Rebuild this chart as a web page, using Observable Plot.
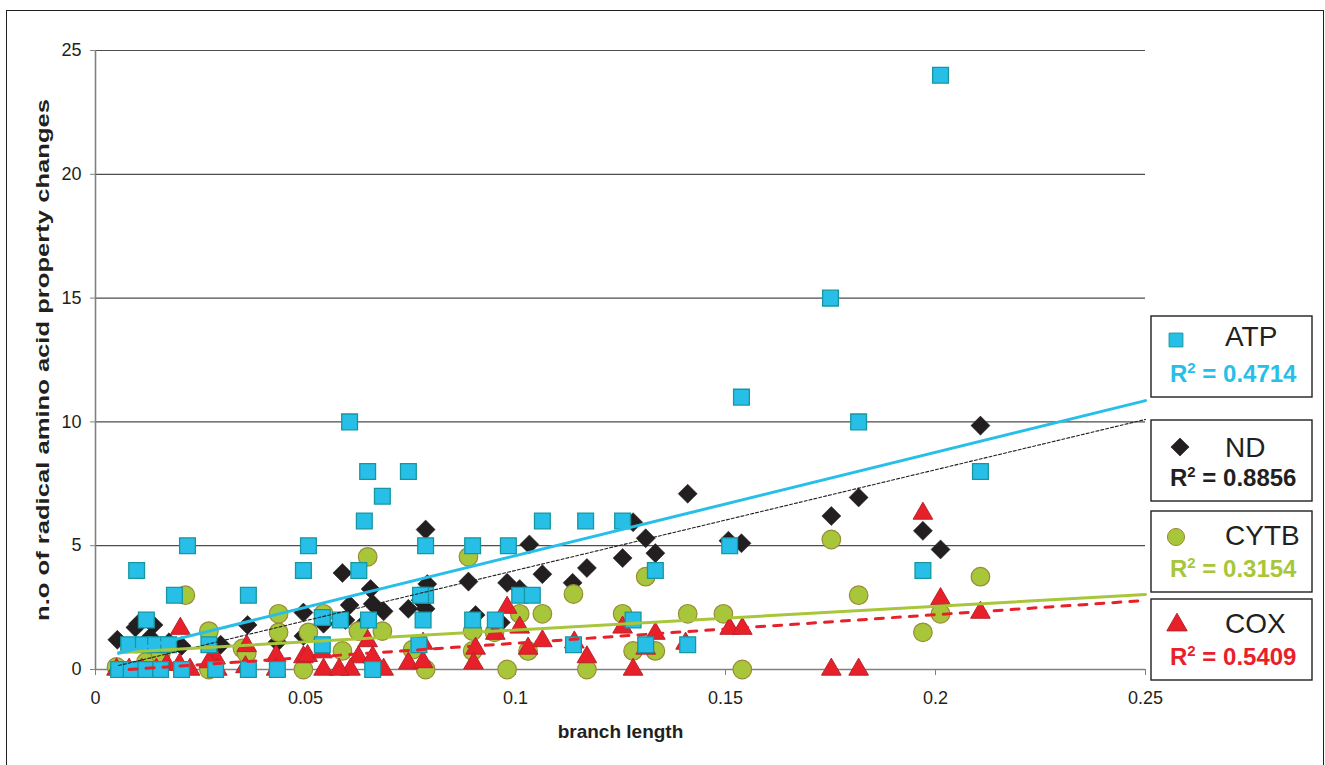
<!DOCTYPE html>
<html><head><meta charset="utf-8">
<script src="https://cdn.jsdelivr.net/npm/d3@7"></script>
<script src="https://cdn.jsdelivr.net/npm/@observablehq/plot@0.6"></script>
<style>
html,body{margin:0;padding:0;background:#fff;}
#wrap{position:relative;width:1325px;height:765px;overflow:hidden;font-family:"Liberation Sans",Arial,sans-serif;}
#frame{position:absolute;left:6px;top:10px;width:1318px;height:800px;border:1.5px solid #231f20;box-sizing:border-box;}
#chart{position:absolute;left:0;top:0;}
#legend{position:absolute;left:0;top:0;}
</style></head><body>
<div id="wrap"><div id="frame"></div><div id="chart"></div><svg id="legend" width="1325" height="765"></svg></div>
<script>
// ---- data (branch length, n.o of radical changes) ----
const atp = [[0.2012,24],[0.175,15],[0.1538,11],[0.1817,10],[0.0605,10],[0.2107,8],[0.0648,8],[0.0745,8],[0.0683,7],[0.0640,6],[0.1064,6],[0.1167,6],[0.1255,6],[0.0219,5],[0.0507,5],[0.0786,5],[0.0898,5],[0.0983,5],[0.151,5],[0.197,4],[0.0098,4],[0.0495,4],[0.0627,4],[0.1333,4],[0.0188,3],[0.0364,3],[0.0786,3],[0.0774,3],[0.101,3],[0.104,3],[0.0121,2],[0.0583,2],[0.054,2.1],[0.065,2],[0.078,2],[0.0898,2],[0.0952,2],[0.128,2],[0.0079,1],[0.0114,1],[0.0143,1],[0.0174,1],[0.027,1],[0.054,1],[0.077,1],[0.1138,1],[0.131,1],[0.141,1],[0.0055,0],[0.0085,0],[0.012,0],[0.0155,0],[0.0205,0],[0.0286,0],[0.0364,0],[0.0433,0],[0.066,0]];
const nd = [[0.2107,9.85],[0.141,7.1],[0.1817,6.95],[0.1752,6.2],[0.197,5.6],[0.2012,4.85],[0.1538,5.1],[0.1507,5.2],[0.128,5.95],[0.131,5.3],[0.1255,4.5],[0.1333,4.7],[0.117,4.1],[0.1064,3.85],[0.1136,3.5],[0.1033,5.05],[0.0786,5.65],[0.0588,3.9],[0.0655,3.25],[0.079,3.45],[0.0888,3.55],[0.098,3.5],[0.101,3.25],[0.0774,2.8],[0.0605,2.6],[0.066,2.65],[0.0686,2.35],[0.0745,2.45],[0.0786,2.45],[0.0905,2.2],[0.0965,1.9],[0.063,1.7],[0.0595,2.0],[0.0543,1.85],[0.0495,2.3],[0.0362,1.8],[0.0433,1.1],[0.0495,1.35],[0.0286,0.9],[0.0298,1.0],[0.0052,1.2],[0.0095,1.7],[0.0138,1.8],[0.0102,1.85],[0.013,1.3],[0.0175,1.1],[0.0205,0.95]];
const cytb = [[0.0214,3],[0.027,1.55],[0.0436,2.25],[0.0436,1.5],[0.0507,1.5],[0.0543,2.25],[0.035,0.85],[0.036,0.65],[0.0495,0],[0.0626,1.55],[0.0683,1.55],[0.0588,0.75],[0.0755,0.8],[0.0786,0],[0.0898,1.55],[0.0898,0.75],[0.0648,4.55],[0.0888,4.55],[0.1138,3.05],[0.101,2.25],[0.1064,2.25],[0.095,1.5],[0.103,0.75],[0.098,0],[0.117,0],[0.131,3.75],[0.1255,2.25],[0.141,2.25],[0.1495,2.25],[0.128,0.75],[0.1333,0.75],[0.154,0],[0.1752,5.25],[0.1817,3.0],[0.2107,3.75],[0.2012,2.25],[0.197,1.5],[0.005,0.1],[0.012,0.3],[0.0155,0.6],[0.027,0]];
const cox = [[0.197,6.3],[0.2012,2.85],[0.2107,2.3],[0.1817,0],[0.1752,0],[0.151,1.65],[0.154,1.65],[0.128,0],[0.1255,1.7],[0.1333,1.45],[0.131,0.85],[0.1405,1.05],[0.098,2.5],[0.101,1.7],[0.0952,1.45],[0.1064,1.15],[0.103,0.85],[0.0905,0.85],[0.117,0.5],[0.114,1.1],[0.09,0.25],[0.0648,1.15],[0.078,1.05],[0.0626,0.5],[0.066,0.5],[0.0607,0],[0.0686,0],[0.0745,0.25],[0.078,0.3],[0.036,0.95],[0.043,0.55],[0.0495,0.5],[0.0505,0.55],[0.054,0.7],[0.0543,0],[0.058,0],[0.0357,0.1],[0.043,0],[0.0202,1.65],[0.0286,0.45],[0.029,0],[0.027,0.3],[0.02,0.2],[0.005,0],[0.008,0],[0.011,0],[0.0145,0],[0.017,0.2],[0.0225,0]];
// linear trend lines (start and end points)
const atpTrend = [[0.0055,0.65],[0.25,10.86]];
const ndTrend = [[0.0055,0.16],[0.25,10.1]];
const cytbTrend = [[0.0055,0.69],[0.25,3.03]];
const coxTrend = [[0.008,0.0],[0.25,2.79]];
const xTicks = [0,0.05,0.1,0.15,0.2,0.25];
const xTickLabels = ["0","0.05","0.1","0.15","0.2","0.25"];
const yTicks = [0,5,10,15,20,25];
const seriesNames = ["ATP","ND","CYTB","COX"];
const rSquared = ["0.4714","0.8856","0.3154","0.5409"];
const xTitle = "branch length";
const yTitle = "n.o of radical amino acid property changes";

const C = {atp:"#27bfe8", atpS:"#16979f", nd:"#231f20", cytb:"#a8c63a", cytbS:"#9a8a34", cox:"#e8202a", coxS:"#b8232b"};

const px = d => d[0], py = d => d[1];
const chart = Plot.plot({
  width: 1325, height: 765,
  marginLeft: 95, marginRight: 180, marginTop: 50, marginBottom: 96,
  x: {domain: [0, 0.25]},
  y: {domain: [0, 25]},
  style: {fontFamily: '"Liberation Sans", Arial, sans-serif', fontSize: "18px", color: "#231f20", background: "transparent", overflow: "visible"},
  marks: [
    Plot.gridY(yTicks.filter(d => d > 0), {stroke: "#4d4d4d", strokeOpacity: 1, strokeWidth: 1.2}),
    Plot.ruleX([0], {stroke: "#808080", strokeWidth: 1.6}),
    Plot.ruleY([0], {stroke: "#808080", strokeWidth: 1.6}),
    Plot.axisY({ticks: yTicks, tickSize: 5, tickPadding: 9, label: null, stroke: "#808080"}),
    Plot.axisX({ticks: xTicks, tickFormat: d => xTickLabels[xTicks.indexOf(d)], tickSize: 6, tickPadding: 16, label: null, stroke: "#808080"}),
    Plot.dot(nd, {x: px, y: py, symbol: "square", r: 7.6, rotate: 45, fill: C.nd, stroke: C.nd, strokeWidth: 0.5}),
    Plot.dot(cytb, {x: px, y: py, symbol: "circle", r: 9.3, fill: C.cytb, stroke: C.cytbS, strokeWidth: 1.2}),
    Plot.dot(cox, {x: px, y: py, symbol: "triangle", r: 7.3, fill: C.cox, stroke: C.coxS, strokeWidth: 1}),
    Plot.dot(atp, {x: px, y: py, symbol: "square", r: 8.9, fill: C.atp, stroke: C.atpS, strokeWidth: 1.3}),
    Plot.line(ndTrend, {x: px, y: py, stroke: "#231f20", strokeWidth: 1.1, strokeDasharray: "3,2"}),
    Plot.line(coxTrend, {x: px, y: py, stroke: C.cox, strokeWidth: 3, strokeDasharray: "8,9"}),
    Plot.line(cytbTrend, {x: px, y: py, stroke: C.cytb, strokeWidth: 3}),
    Plot.line(atpTrend, {x: px, y: py, stroke: C.atp, strokeWidth: 3}),
    Plot.text([yTitle], {frameAnchor: "left", textAnchor: "middle", dx: -52, rotate: -90, fontWeight: "bold", fontSize: 18, fill: "#231f20"}),
    Plot.text([xTitle], {frameAnchor: "bottom", textAnchor: "middle", dy: 68, fontWeight: "bold", fontSize: 19, fill: "#231f20"})
  ]
});
document.getElementById("chart").append(chart);
d3.select(chart).selectAll("text").filter(function() { return this.textContent === yTitle; })
  .attr("textLength", 522).attr("lengthAdjust", "spacingAndGlyphs");

// ---- legend boxes ----
const legendTops = [316, 420, 511, 599];
const legendFill = [C.atp, C.nd, C.cytb, C.cox];
const legendStroke = [C.atpS, C.nd, C.cytbS, C.coxS];
const legendText = [C.atp, "#231f20", C.cytb, C.cox];
const legendSym = [d3.symbolSquare, d3.symbolSquare, d3.symbolCircle, d3.symbolTriangle];
const legendSize = [190, 150, 230, 180];
const legendRot = [0, 45, 0, 0];
const legendMarkerPos = [[25,24],[29,27],[25,26],[26,26]];
const legendNameY = [30, 37, 34, 34];
const leg = d3.select("#legend");
seriesNames.forEach((name, i) => {
  const g = leg.append("g").attr("transform", `translate(1151,${legendTops[i]})`);
  g.append("rect").attr("width", 161).attr("height", 81).attr("fill", "#fff").attr("stroke", "#231f20").attr("stroke-width", 1.4);
  g.append("path").attr("d", d3.symbol(legendSym[i], legendSize[i])())
    .attr("transform", `translate(${legendMarkerPos[i][0]},${legendMarkerPos[i][1]}) rotate(${legendRot[i]})`)
    .attr("fill", legendFill[i]).attr("stroke", legendStroke[i]).attr("stroke-width", 1);
  g.append("text").attr("x", 74).attr("y", legendNameY[i])
    .style("font-family", '"Liberation Sans", Arial, sans-serif').style("font-size", "28px").attr("fill", "#231f20").text(name);
  const t = g.append("text").attr("x", 19).attr("y", 66)
    .style("font-family", '"Liberation Sans", Arial, sans-serif').style("font-size", "24px").style("font-weight", "bold").attr("fill", legendText[i]);
  t.append("tspan").text("R");
  t.append("tspan").attr("dy", -9).style("font-size", "15px").text("2");
  t.append("tspan").attr("dy", 9).text(" = " + rSquared[i]);
});
</script>
</body></html>
